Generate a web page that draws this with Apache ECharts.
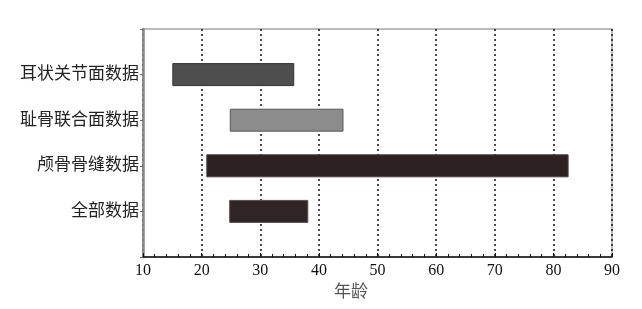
<!DOCTYPE html>
<html><head><meta charset="utf-8">
<script src="https://cdn.jsdelivr.net/npm/echarts@6/dist/echarts.min.js"></script>
<style>html,body{margin:0;padding:0;background:#fff}#c{width:642px;height:309px}</style>
</head><body><div id="c"></div>
<script>
// categories listed bottom-to-top, padded with blank slots at both ends
const categories = ['', '全部数据', '颅骨骨缝数据', '耻骨联合面数据', '耳状关节面数据', ''];
const startAges = [null, 24.7, 20.8, 24.8, 15.0, null];
const endAges   = [null, 38.2, 82.6, 44.2, 35.8, null];
const barColors = [null, '#2f2524', '#2d2121', '#8c8c8c', '#4e4e4e'];
const barBorders = [null, '#5a5050', '#4a4040', '#5a5a5a', '#333333'];
const xTicks = [10, 20, 30, 40, 50, 60, 70, 80, 90];

const spans = startAges.map((s, i) => s == null ? null : +(endAges[i] - s).toFixed(2));
const font = '"Liberation Serif","Noto Sans CJK SC",serif';

const chart = echarts.init(document.getElementById('c'));
chart.setOption({
  animation: false,
  grid: { left: 143, right: 30, top: 29, bottom: 52, show: true, borderColor: '#777', borderWidth: 1 },
  xAxis: {
    type: 'value', min: xTicks[0], max: xTicks[xTicks.length - 1], interval: 10,
    name: '年龄', nameLocation: 'middle', nameGap: 20,
    nameTextStyle: { fontFamily: font, fontSize: 17, color: '#555', padding: [0, 53, 0, 0] },
    axisLine: { show: true, lineStyle: { color: '#111', width: 1.5 } },
    axisTick: { show: true, inside: true, length: 4, lineStyle: { color: '#111' } },
    minorTick: { show: true, splitNumber: 5, length: 3, lineStyle: { color: '#111' } },
    axisLabel: { fontFamily: font, fontSize: 16, color: '#111', margin: 6 },
    splitLine: { show: true, lineStyle: { color: '#111', type: [2, 3], width: 1.5 } }
  },
  yAxis: {
    type: 'category', data: categories, boundaryGap: false,
    axisLine: { show: true, lineStyle: { color: '#888', width: 2.5 } },
    axisTick: { show: true, length: 3, lineStyle: { color: '#666' } },
    axisLabel: { fontFamily: font, fontSize: 17, color: '#222', margin: 4, interval: 0 },
    splitLine: { show: false }
  },
  series: [
    { type: 'bar', stack: 'r', data: startAges, itemStyle: { color: 'transparent' }, barWidth: 23, silent: true },
    { type: 'bar', stack: 'r', data: spans.map((v, i) => v == null ? null : {
        value: v, itemStyle: { color: barColors[i], borderColor: barBorders[i], borderWidth: 1 } }),
      barWidth: 23 }
  ]
});
</script></body></html>
